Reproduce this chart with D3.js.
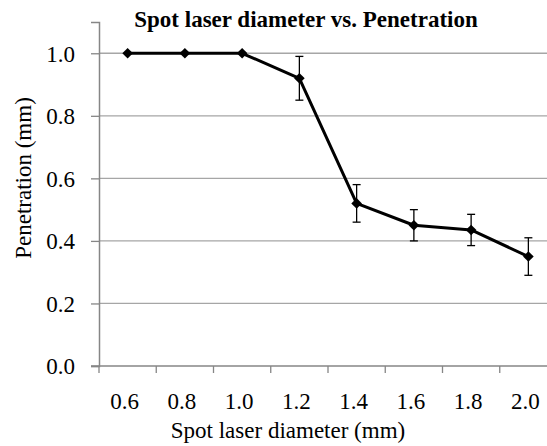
<!DOCTYPE html>
<html>
<head>
<meta charset="utf-8">
<script src="https://cdn.jsdelivr.net/npm/d3@7"></script>
<style>
  body { margin: 0; background: #fff; }
  svg { display: block; }
</style>
</head>
<body>
<svg id="chart" width="547" height="446"></svg>
<script>
// data
var diameters = ["0.6", "0.8", "1.0", "1.2", "1.4", "1.6", "1.8", "2.0"];
var penetration = [1.0, 1.0, 1.0, 0.92, 0.52, 0.45, 0.435, 0.35];
var errors = [0, 0, 0, 0.07, 0.06, 0.05, 0.05, 0.06];
var yTicks = [0, 0.2, 0.4, 0.6, 0.8, 1.0];

var plotLeft = 99, plotRight = 557, plotTop = 22, plotBottom = 366;
var serif = "Liberation Serif";

var svg = d3.select("#chart");

var x = d3.scaleBand().domain(diameters).range([plotLeft, plotRight]).padding(0);
var y = d3.scaleLinear().domain([0, 1.1]).range([plotBottom, plotTop]);

// gridlines
svg.append("g").selectAll("line").data(yTicks.filter(function(d) { return d > 0; }))
    .enter().append("line")
    .attr("x1", plotLeft).attr("x2", plotRight)
    .attr("y1", function(d) { return y(d); })
    .attr("y2", function(d) { return y(d); })
    .attr("stroke", "#a6a6a6").attr("stroke-width", 1.3);

// y axis
var yAxis = d3.axisLeft(y).tickValues(yTicks).tickSize(8).tickPadding(16)
    .tickFormat(d3.format(".1f"));
var gy = svg.append("g").attr("transform", "translate(" + plotLeft + ",0)").call(yAxis);
gy.select(".domain").attr("stroke", "#868686").attr("stroke-width", 1.5);
gy.selectAll(".tick line").attr("stroke", "#868686").attr("stroke-width", 1.3);
gy.selectAll("text").attr("fill", "#000").attr("dy", "0.34em")
    .style("font-family", serif).style("font-size", "23px");

// x axis, ticks on category boundaries
var gx = svg.append("g").attr("transform", "translate(0," + plotBottom + ")");
gx.append("line").attr("x1", plotLeft - 8).attr("x2", plotRight)
    .attr("stroke", "#868686").attr("stroke-width", 1.5);
gx.selectAll(".xtick").data(diameters).enter().append("line")
    .attr("x1", function(d) { return x(d); })
    .attr("x2", function(d) { return x(d); })
    .attr("y1", 0).attr("y2", 7)
    .attr("stroke", "#868686").attr("stroke-width", 1.3);
gx.selectAll(".xlab").data(diameters).enter().append("text")
    .attr("x", function(d) { return x(d) + x.bandwidth() / 2 - 3; })
    .attr("y", 43)
    .attr("text-anchor", "middle")
    .style("font-family", serif).style("font-size", "23px")
    .text(function(d) { return d; });

var pts = diameters.map(function(d, i) {
    return { cat: d, v: penetration[i], e: errors[i] };
});
var cx = function(d) { return x(d.cat) + x.bandwidth() / 2; };

// error bars
var eb = svg.append("g").selectAll("g").data(pts.filter(function(d) { return d.e > 0; }))
    .enter().append("g").attr("stroke", "#000").attr("stroke-width", 1.3);
eb.append("line").attr("x1", cx).attr("x2", cx)
    .attr("y1", function(d) { return y(d.v + d.e); })
    .attr("y2", function(d) { return y(d.v - d.e); });
eb.append("line").attr("x1", function(d) { return cx(d) - 4; })
    .attr("x2", function(d) { return cx(d) + 4; })
    .attr("y1", function(d) { return y(d.v + d.e); })
    .attr("y2", function(d) { return y(d.v + d.e); });
eb.append("line").attr("x1", function(d) { return cx(d) - 4; })
    .attr("x2", function(d) { return cx(d) + 4; })
    .attr("y1", function(d) { return y(d.v - d.e); })
    .attr("y2", function(d) { return y(d.v - d.e); });

// series line
var line = d3.line().x(cx).y(function(d) { return y(d.v); });
svg.append("path").datum(pts).attr("d", line)
    .attr("fill", "none").attr("stroke", "#000").attr("stroke-width", 3)
    .attr("stroke-linejoin", "round");

// diamond markers
svg.append("g").selectAll("path").data(pts).enter().append("path")
    .attr("d", d3.symbol(d3.symbolDiamond2, 72))
    .attr("transform", function(d) { return "translate(" + cx(d) + "," + y(d.v) + ")"; })
    .attr("fill", "#000");

// titles
svg.append("text").attr("x", 306).attr("y", 27).attr("text-anchor", "middle")
    .style("font-family", serif).style("font-size", "23px").style("font-weight", "bold")
    .text("Spot laser diameter vs. Penetration");

svg.append("text").attr("x", 288).attr("y", 438).attr("text-anchor", "middle")
    .style("font-family", serif).style("font-size", "23px")
    .text("Spot laser diameter (mm)");

svg.append("text").attr("transform", "translate(31,178) rotate(-90)")
    .attr("text-anchor", "middle")
    .style("font-family", serif).style("font-size", "23px")
    .text("Penetration (mm)");
</script>
</body>
</html>
